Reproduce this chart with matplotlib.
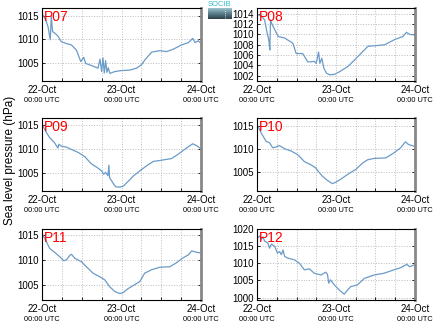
import numpy as np
import matplotlib
matplotlib.use('Agg')
import matplotlib.pyplot as plt
from matplotlib.ticker import MultipleLocator, FixedLocator
from matplotlib.colors import LinearSegmentedColormap
import matplotlib.transforms as mtransforms

plt.rcParams['font.family'] = ['Liberation Sans', 'DejaVu Sans']

# Hours since 22-Oct 00:00 UTC and sea level pressure (hPa) for each station
p07_x = [0.3, 1.1, 1.8, 2.5, 2.8, 3.2, 3.9, 4.9, 5.8, 7.4, 8.9, 10.4, 11.7, 12.6, 13.2, 14.4,
         15.9, 16.9, 17.5, 18.0, 18.4, 18.8, 19.2, 19.6, 20.0, 20.5, 22.0, 24.0, 26.5, 28.5,
         30.0, 31.0, 33.1, 35.6, 37.6, 39.6, 42.1, 44.2, 45.5, 46.2, 47.2, 48.0]
p07_y = [1015.1, 1014.1, 1012.7, 1009.9, 1014.8, 1011.6, 1011.3, 1010.6, 1009.5, 1009.1, 1008.8,
         1007.7, 1005.3, 1006.2, 1004.9, 1004.6, 1004.2, 1003.9, 1005.8, 1003.2, 1006.1, 1002.9,
         1005.5, 1003.0, 1004.0, 1002.8, 1003.2, 1003.4, 1003.5, 1003.9, 1004.6, 1005.6, 1007.3,
         1007.6, 1007.4, 1007.9, 1008.8, 1009.3, 1010.2, 1009.3, 1009.7, 1009.1]

p08_x = [0.3, 1.3, 2.3, 3.1, 3.6, 3.9, 4.1, 4.6, 5.4, 6.4, 8.4, 10.9, 11.9, 13.9, 15.4, 16.4,
         17.4, 18.0, 18.7, 19.1, 19.7, 20.3, 21.1, 22.1, 23.6, 25.1, 27.6, 29.7, 31.2, 33.7,
         35.7, 38.8, 41.8, 44.3, 45.4, 46.4, 47.9]
p08_y = [1013.8, 1013.6, 1012.8, 1010.2, 1008.9, 1007.0, 1012.8, 1011.9, 1010.9, 1009.6, 1009.3,
         1008.3, 1006.3, 1006.3, 1004.7, 1004.7, 1004.8, 1004.4, 1006.6, 1004.4, 1005.4, 1003.5,
         1002.5, 1002.2, 1002.3, 1002.8, 1003.8, 1005.1, 1006.1, 1007.7, 1007.8, 1008.0, 1009.0,
         1009.6, 1010.4, 1010.0, 1009.9]

p09_x = [0.3, 1.3, 2.3, 3.8, 4.8, 5.1, 5.8, 7.4, 8.9, 10.9, 12.9, 14.9, 16.9, 18.0, 18.6, 19.2,
         19.9, 20.2, 20.4, 21.4, 22.2, 23.4, 24.5, 26.0, 27.5, 29.5, 31.6, 33.6, 35.6, 39.1,
         41.1, 43.6, 45.5, 46.7, 47.7]
p09_y = [1014.8, 1013.5, 1012.4, 1011.3, 1010.2, 1011.0, 1010.6, 1010.4, 1009.9, 1009.3, 1008.4,
         1006.9, 1006.0, 1005.4, 1004.7, 1005.1, 1004.4, 1006.6, 1004.0, 1002.9, 1002.1, 1002.0,
         1002.2, 1003.2, 1004.3, 1005.4, 1006.5, 1007.4, 1007.6, 1008.0, 1008.9, 1010.2, 1011.1,
         1010.7, 1010.2]

p10_x = [0.3, 1.3, 2.8, 3.8, 4.8, 5.8, 6.8, 8.4, 10.4, 12.4, 14.4, 16.4, 17.9, 18.6, 19.9,
         21.4, 22.9, 23.9, 25.5, 27.5, 30.0, 32.1, 33.6, 35.6, 39.1, 41.6, 43.6, 45.1, 46.1, 47.6]
p10_y = [1015.0, 1013.5, 1011.7, 1011.4, 1010.3, 1010.5, 1010.8, 1010.1, 1009.6, 1008.8, 1007.3,
         1006.6, 1005.9, 1005.2, 1004.1, 1003.2, 1002.5, 1002.8, 1003.5, 1004.5, 1005.6, 1007.0,
         1007.7, 1008.0, 1008.1, 1009.2, 1010.3, 1011.6, 1011.0, 1010.7]

p11_x = [0.3, 1.3, 2.3, 3.8, 5.4, 6.6, 7.4, 8.4, 8.9, 9.9, 11.9, 13.4, 15.4, 17.4, 18.9, 20.4,
         21.99, 23.5, 24.5, 26.0, 28.0, 29.5, 31.0, 33.1, 35.6, 38.6, 40.6, 42.6, 44.2, 45.2,
         46.7, 47.7]
p11_y = [1015.0, 1013.8, 1012.4, 1011.6, 1010.7, 1009.9, 1010.1, 1011.0, 1011.2, 1010.4, 1009.7,
         1008.7, 1007.4, 1006.7, 1006.1, 1004.7, 1003.7, 1003.3, 1003.5, 1004.3, 1005.1, 1005.7,
         1007.4, 1008.1, 1008.6, 1008.7, 1009.5, 1010.5, 1011.1, 1011.9, 1011.6, 1011.5]

p12_x = [0.1, 0.8, 1.3, 1.8, 2.3, 3.3, 3.8, 4.4, 5.4, 6.2, 6.9, 7.4, 7.9, 8.4, 9.4, 11.4, 12.9,
         14.4, 15.9, 17.4, 19.4, 20.9, 21.4, 21.8, 22.3, 23.5, 25.0, 26.5, 27.5, 28.5, 30.5,
         32.6, 35.6, 38.6, 41.6, 43.6, 45.5, 46.4, 47.7]
p12_y = [1017.3, 1018.0, 1017.0, 1017.7, 1016.5, 1015.9, 1014.4, 1015.6, 1014.9, 1013.0, 1013.4,
         1012.5, 1013.9, 1012.0, 1011.5, 1011.0, 1010.0, 1008.1, 1008.4, 1007.1, 1006.6, 1007.4,
         1006.8, 1004.2, 1005.2, 1003.7, 1002.2, 1001.0, 1002.2, 1003.2, 1003.7, 1005.6, 1006.6,
         1007.1, 1008.1, 1008.7, 1009.7, 1009.0, 1009.5]

stations = ['P07', 'P08', 'P09', 'P10', 'P11', 'P12']
series = [(p07_x, p07_y), (p08_x, p08_y), (p09_x, p09_y),
          (p10_x, p10_y), (p11_x, p11_y), (p12_x, p12_y)]
ylims = [(1001.2, 1016.6), (1001.0, 1015.1), (1001.2, 1016.5),
         (1000.9, 1016.8), (1002.0, 1016.3), (999.3, 1020.0)]
yticks = [[1005, 1010, 1015],
          [1002, 1004, 1006, 1008, 1010, 1012, 1014],
          [1005, 1010, 1015],
          [1005, 1010, 1015],
          [1005, 1010, 1015],
          [1000, 1005, 1010, 1015, 1020]]
date_labels = ['22-Oct', '23-Oct', '24-Oct']
time_label = '00:00 UTC'

fig = plt.figure(figsize=(4.35, 3.27), dpi=100)
W, H = 435, 327

# axes boxes in pixels: left, top, right, bottom
boxes = [(42, 8, 201, 81), (257, 8, 415, 81),
         (42, 118, 201, 191), (257, 118, 415, 191),
         (42, 229, 201, 300), (257, 229, 415, 300)]

line_color = '#6b9bc8'

for i, (name, (xs, ys)) in enumerate(zip(stations, series)):
    l, t, r, b = boxes[i]
    ax = fig.add_axes([l / W, 1 - b / H, (r - l) / W, (b - t) / H])
    ax.plot(xs, ys, color=line_color, lw=0.9)
    ax.set_xlim(0, 48)
    ax.set_ylim(*ylims[i])
    ax.xaxis.set_major_locator(MultipleLocator(24))
    ax.xaxis.set_minor_locator(MultipleLocator(6))
    ax.yaxis.set_major_locator(FixedLocator(yticks[i]))
    ax.set_yticklabels([str(v) for v in yticks[i]])
    ax.set_xticklabels([])
    ax.grid(True, which='both', axis='x', color='#bbbbbb', ls=':', lw=0.7)
    ax.grid(True, which='major', axis='y', color='#bbbbbb', ls=':', lw=0.7)
    ax.tick_params(axis='both', which='both', direction='in', length=2.5, width=0.6,
                   labelsize=7, pad=2, top=False, right=True)
    ax.tick_params(axis='x', which='major', length=0)
    for s in ['left', 'bottom', 'top']:
        ax.spines[s].set_linewidth(0.8)
    ax.spines['right'].set_color('#888888')
    ax.spines['right'].set_linewidth(2.0)
    ax.text(0.01, 0.97, name, transform=ax.transAxes, color='red', fontsize=10,
            ha='left', va='top')
    trans = mtransforms.blended_transform_factory(ax.transData, ax.transAxes)
    for k, lab in enumerate(date_labels):
        ax.text(24 * k, -0.06, lab, transform=trans, ha='center', va='top', fontsize=7)
        ax.text(24 * k, -0.22, time_label, transform=trans, ha='center', va='top', fontsize=5.3)

fig.text(10 / W, 1 - 160 / H, 'Sea level pressure (hPa)', rotation=90,
         ha='center', va='center', fontsize=8.5)

# small logo at the top
lax = fig.add_axes([208 / W, 1 - 19 / H, 24 / W, 11 / H])
grad = np.linspace(0, 1, 50).reshape(-1, 1)
logo_cmap = LinearSegmentedColormap.from_list('logo', ['#9cc4cc', '#5a7f8c', '#2f3f4a'])
lax.imshow(grad, aspect='auto', cmap=logo_cmap, extent=[0, 1, 0, 1])
lax.plot([0.72, 0.72], [0.1, 0.9], color='white', ls=':', lw=0.6)
lax.set_xlim(0, 1)
lax.set_ylim(0, 1)
lax.axis('off')
fig.text(220 / W, 1 - 4.5 / H, 'SOCIB', color='#33bbd0', fontsize=5.5,
         ha='center', va='center')

fig.savefig('out.png', dpi=100)
